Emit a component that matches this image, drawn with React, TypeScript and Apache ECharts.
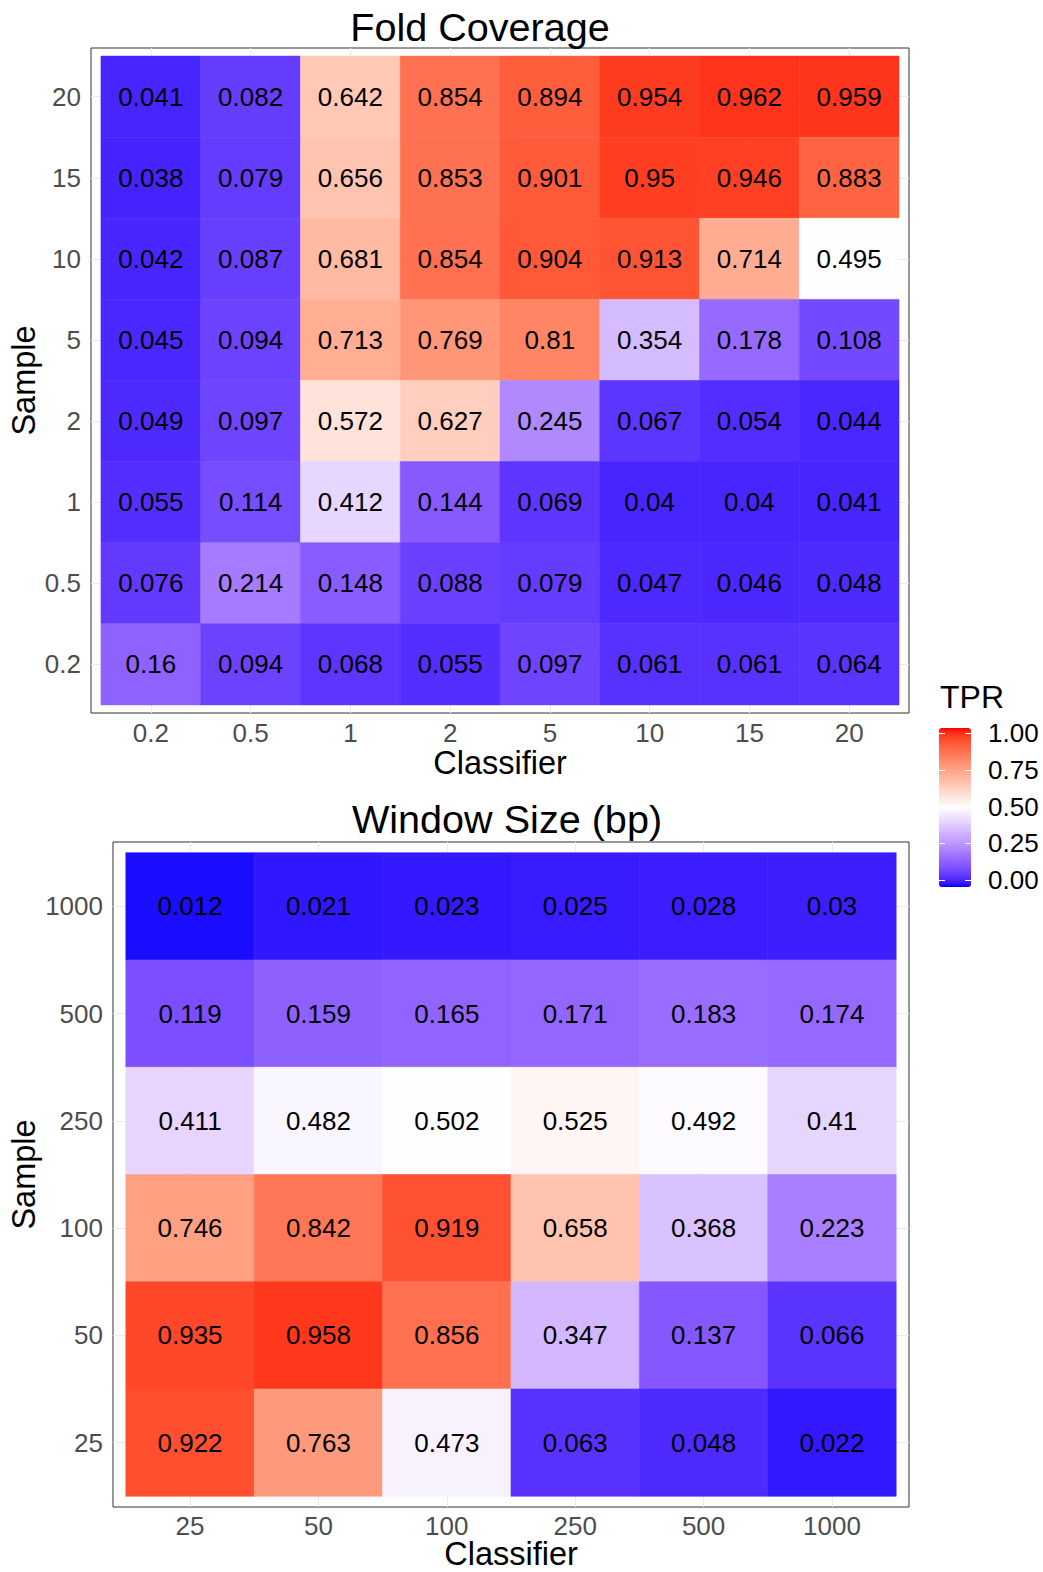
import React, { useEffect, useRef } from "react";
import * as echarts from "echarts";

// ---------- data ----------
const foldClassifier = ["0.2", "0.5", "1", "2", "5", "10", "15", "20"];
const foldSample = ["20", "15", "10", "5", "2", "1", "0.5", "0.2"]; // top -> bottom
const fold20 = [0.041, 0.082, 0.642, 0.854, 0.894, 0.954, 0.962, 0.959];
const fold15 = [0.038, 0.079, 0.656, 0.853, 0.901, 0.95, 0.946, 0.883];
const fold10 = [0.042, 0.087, 0.681, 0.854, 0.904, 0.913, 0.714, 0.495];
const fold5 = [0.045, 0.094, 0.713, 0.769, 0.81, 0.354, 0.178, 0.108];
const fold2 = [0.049, 0.097, 0.572, 0.627, 0.245, 0.067, 0.054, 0.044];
const fold1 = [0.055, 0.114, 0.412, 0.144, 0.069, 0.04, 0.04, 0.041];
const fold05 = [0.076, 0.214, 0.148, 0.088, 0.079, 0.047, 0.046, 0.048];
const fold02 = [0.16, 0.094, 0.068, 0.055, 0.097, 0.061, 0.061, 0.064];
const foldTPR = [fold20, fold15, fold10, fold5, fold2, fold1, fold05, fold02];

const windowClassifier = ["25", "50", "100", "250", "500", "1000"];
const windowSample = ["1000", "500", "250", "100", "50", "25"]; // top -> bottom
const win1000 = [0.012, 0.021, 0.023, 0.025, 0.028, 0.03];
const win500 = [0.119, 0.159, 0.165, 0.171, 0.183, 0.174];
const win250 = [0.411, 0.482, 0.502, 0.525, 0.492, 0.41];
const win100 = [0.746, 0.842, 0.919, 0.658, 0.368, 0.223];
const win50 = [0.935, 0.958, 0.856, 0.347, 0.137, 0.066];
const win25 = [0.922, 0.763, 0.473, 0.063, 0.048, 0.022];
const windowTPR = [win1000, win500, win250, win100, win50, win25];

const legendBreaks = [0, 0.25, 0.5, 0.75, 1];

// ---------- colour scale (Lab interpolation blue - white - red) ----------
const FONT = "'Liberation Sans', Arial, sans-serif";

function toLab(rgb: number[]) {
  const lin = rgb.map((c) => {
    const v = c / 255;
    return v <= 0.04045 ? v / 12.92 : Math.pow((v + 0.055) / 1.055, 2.4);
  });
  const [r, g, b] = lin;
  const X = (0.4124564 * r + 0.3575761 * g + 0.1804375 * b) / 0.95047;
  const Y = 0.2126729 * r + 0.7151522 * g + 0.072175 * b;
  const Z = (0.0193339 * r + 0.119192 * g + 0.9503041 * b) / 1.08883;
  const f = (t: number) => (t > 216 / 24389 ? Math.cbrt(t) : ((24389 / 27) * t + 16) / 116);
  const fx = f(X), fy = f(Y), fz = f(Z);
  return [116 * fy - 16, 500 * (fx - fy), 200 * (fy - fz)];
}
function fromLab(lab: number[]) {
  const [L, a, bb] = lab;
  const fy = (L + 16) / 116;
  const fx = fy + a / 500;
  const fz = fy - bb / 200;
  const finv = (t: number) => (t * t * t > 216 / 24389 ? t * t * t : (116 * t - 16) / (24389 / 27));
  const X = finv(fx) * 0.95047, Y = finv(fy), Z = finv(fz) * 1.08883;
  const lin = [
    3.2404542 * X - 1.5371385 * Y - 0.4985314 * Z,
    -0.969266 * X + 1.8760108 * Y + 0.041556 * Z,
    0.0556434 * X - 0.2040259 * Y + 1.0572252 * Z,
  ];
  const out = lin.map((c) => {
    const v = Math.min(1, Math.max(0, c));
    const s = v <= 0.0031308 ? 12.92 * v : 1.055 * Math.pow(v, 1 / 2.4) - 0.055;
    return Math.round(s * 255);
  });
  return `rgb(${out[0]},${out[1]},${out[2]})`;
}
const LOW = toLab([0, 0, 255]);
const MID = toLab([255, 255, 255]);
const HIGH = toLab([255, 0, 0]);
function scaleColor(v: number) {
  let a: number[], b: number[], t: number;
  if (v <= 0.5) { a = LOW; b = MID; t = v / 0.5; } else { a = MID; b = HIGH; t = (v - 0.5) / 0.5; }
  return fromLab([0, 1, 2].map((i) => a[i] + (b[i] - a[i]) * t));
}
const colorStops: string[] = [];
for (let i = 0; i <= 40; i++) colorStops.push(scaleColor(i / 40));

// ---------- helpers ----------
function buildData(rows: number[][]) {
  const n = rows.length;
  const out: number[][] = [];
  rows.forEach((row, i) => row.forEach((v, c) => out.push([c, n - 1 - i, v])));
  return out;
}
function idx(n: number) {
  const a: number[] = [];
  for (let i = 0; i < n; i++) a.push(i);
  return a;
}

function panelAxes(
  gridIndex: number,
  xLabels: string[],
  yLabelsTopDown: string[],
  xNameGap: number,
  xNameLineHeight: number,
  xLabelMargin: number,
  yNameGap: number
) {
  const yLabels = yLabelsTopDown.slice().reverse();
  const nx = xLabels.length, ny = yLabels.length;
  const common = {
    gridIndex,
    type: "value" as const,
    axisLine: { show: false },
    axisTick: { show: true, length: 5, lineStyle: { color: "#333333", width: 1 } },
    splitLine: { show: true, lineStyle: { color: "#EBEBEB", width: 1 } },
    nameLocation: "middle" as const,
    nameMoveOverlap: false,
  };
  const x = {
    ...common,
    min: -0.6,
    max: nx - 0.4,
    name: "Classifier",
    nameGap: xNameGap,
    nameTextStyle: { fontSize: 32.5, lineHeight: xNameLineHeight, color: "#000", fontFamily: FONT },
    axisTick: { ...common.axisTick, customValues: idx(nx) },
    axisLabel: {
      customValues: idx(nx),
      formatter: (v: number) => xLabels[Math.round(v)],
      fontSize: 26,
      color: "#4D4D4D",
      fontFamily: FONT,
      margin: xLabelMargin,
    },
  };
  const y = {
    ...common,
    min: -0.6,
    max: ny - 0.4,
    name: "Sample",
    nameGap: yNameGap,
    nameTextStyle: { fontSize: 32.5, lineHeight: 26, color: "#000", fontFamily: FONT },
    axisTick: { ...common.axisTick, customValues: idx(ny) },
    axisLabel: {
      customValues: idx(ny),
      formatter: (v: number) => yLabels[Math.round(v)],
      fontSize: 26,
      color: "#4D4D4D",
      fontFamily: FONT,
      margin: 10,
    },
  };
  return { x, y };
}

function tileSeries(axisIndex: number, rows: number[][]) {
  return {
    type: "custom",
    coordinateSystem: "cartesian2d",
    xAxisIndex: axisIndex,
    yAxisIndex: axisIndex,
    encode: { x: 0, y: 1 },
    data: buildData(rows),
    renderItem: (params: any, api: any) => {
      const x = api.value(0), y = api.value(1), v = api.value(2);
      const p1 = api.coord([x - 0.5, y + 0.5]);
      const p2 = api.coord([x + 0.5, y - 0.5]);
      const color = api.visual("color");
      return {
        type: "rect",
        shape: { x: p1[0], y: p1[1], width: p2[0] - p1[0], height: p2[1] - p1[1] },
        style: { fill: color, stroke: color, lineWidth: 0.6 },
        textContent: {
          style: { text: String(v), fill: "#000", fontSize: 26, fontFamily: FONT },
        },
        textConfig: { position: "inside" },
      };
    },
  };
}

export default function App() {
  const ref = useRef<HTMLDivElement>(null);
  useEffect(() => {
    if (!ref.current) return;
    const chart = echarts.init(ref.current, null, { renderer: "svg" });
    const top = panelAxes(0, foldClassifier, foldSample, 37, 26, 7, 54);
    const bottom = panelAxes(1, windowClassifier, windowSample, 35, 24, 6, 76);
    const gridBase = { show: true, borderColor: "#333333", borderWidth: 1, backgroundColor: "transparent", containLabel: false, outerBoundsMode: "none" };
    const option: any = {
      animation: false,
      backgroundColor: "#ffffff",
      grid: [
        { ...gridBase, left: 91, top: 48, width: 818, height: 665 },
        { ...gridBase, left: 113, top: 842, width: 796, height: 665 },
        { left: 939, top: 733, width: 32, height: 147, show: false, containLabel: false, outerBoundsMode: "none" },
      ],
      xAxis: [
        top.x,
        bottom.x,
        { gridIndex: 2, type: "value", show: false, min: 0, max: 1 },
      ],
      yAxis: [
        top.y,
        bottom.y,
        {
          gridIndex: 2, type: "value", min: 0, max: 1, interval: 0.25, position: "left", z: 10,
          axisLine: { show: false }, splitLine: { show: false }, axisLabel: { show: false },
          axisTick: { show: true, inside: true, length: 6, lineStyle: { color: "#ffffff", width: 1 } },
        },
        {
          gridIndex: 2, type: "value", min: 0, max: 1, interval: 0.25, position: "right", z: 10,
          axisLine: { show: false }, splitLine: { show: false },
          axisTick: { show: true, inside: true, length: 6, lineStyle: { color: "#ffffff", width: 1 } },
          axisLabel: {
            show: true, margin: 17, fontSize: 26, color: "#000", fontFamily: FONT,
            formatter: (v: number) => (legendBreaks.indexOf(v) >= 0 ? v.toFixed(2) : ""),
          },
        },
      ],
      visualMap: {
        type: "continuous",
        min: 0,
        max: 1,
        dimension: 2,
        seriesIndex: [0, 1],
        orient: "vertical",
        left: 939,
        top: 728,
        itemWidth: 32,
        itemHeight: 159,
        padding: 0,
        calculable: false,
        hoverLink: false,
        inRange: { color: colorStops },
      },
      graphic: [
        { type: "text", x: 480, y: 27, style: { text: "Fold Coverage", align: "center", verticalAlign: "middle", fontSize: 39.6, fontFamily: FONT, fill: "#000" } },
        { type: "text", x: 507, y: 819, style: { text: "Window Size (bp)", align: "center", verticalAlign: "middle", fontSize: 39.6, fontFamily: FONT, fill: "#000" } },
        { type: "text", x: 940, y: 697, style: { text: "TPR", align: "left", verticalAlign: "middle", fontSize: 32, fontFamily: FONT, fill: "#000" } },
      ],
      series: [tileSeries(0, foldTPR), tileSeries(1, windowTPR)],
    };
    chart.setOption(option);
    return () => chart.dispose();
  }, []);
  return (
    <div
      ref={ref}
      style={{ position: "absolute", left: 0, top: 0, width: 1043, height: 1572, background: "#fff" }}
    />
  );
}
